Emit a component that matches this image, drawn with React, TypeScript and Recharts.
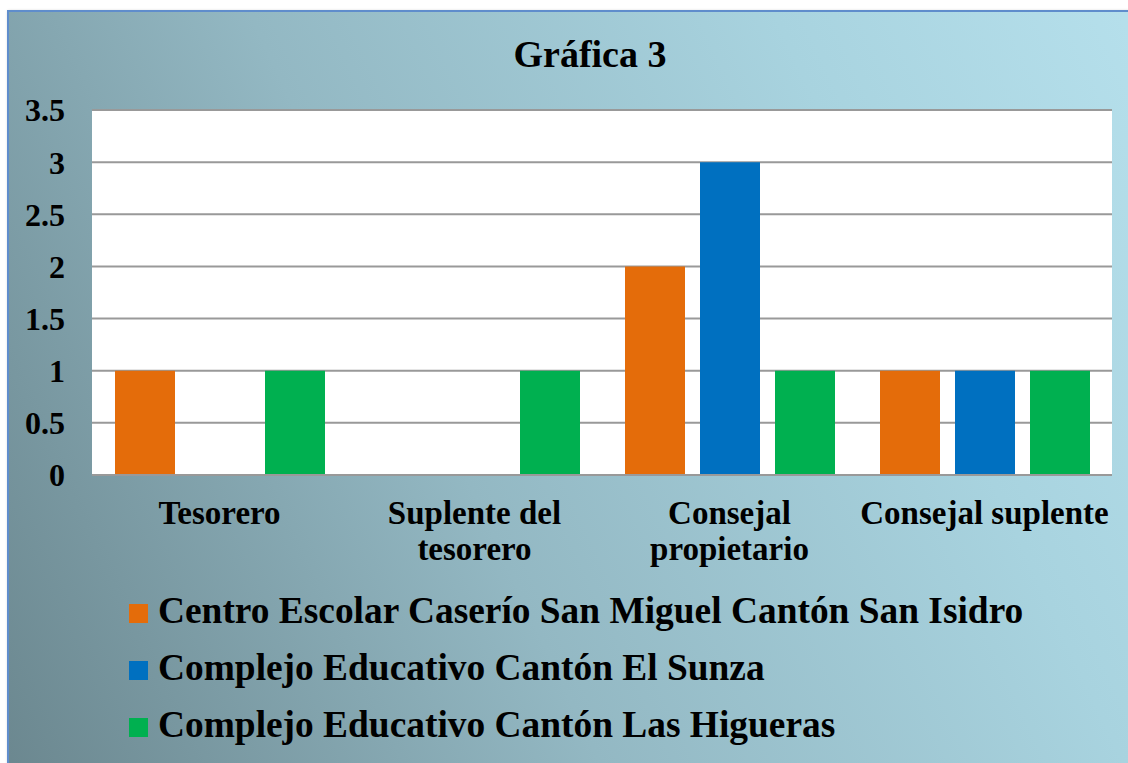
import { BarChart, Bar, XAxis, YAxis, CartesianGrid, Legend } from 'recharts';

const categories = ['Tesorero', 'Suplente del tesorero', 'Consejal propietario', 'Consejal suplente'];
const sanMiguel = [1, 0, 2, 1];
const elSunza = [0, 0, 3, 1];
const lasHigueras = [1, 1, 1, 1];
const yTicks = [0, 0.5, 1, 1.5, 2, 2.5, 3, 3.5];

const seriesNames = [
  'Centro Escolar Caserío San Miguel Cantón San Isidro',
  'Complejo Educativo Cantón El Sunza',
  'Complejo Educativo Cantón Las Higueras',
];

const data = categories.map((name, i) => ({
  name,
  a: sanMiguel[i],
  b: elSunza[i],
  c: lasHigueras[i],
}));

const FONT = '"Liberation Serif", "Times New Roman", serif';

// greedy wrap, roughly what fits in one category slot
function wrap(label: string, max = 18) {
  const lines: string[] = [];
  let cur = '';
  for (const w of label.split(' ')) {
    const next = cur ? cur + ' ' + w : w;
    if (next.length > max && cur) {
      lines.push(cur);
      cur = w;
    } else {
      cur = next;
    }
  }
  if (cur) lines.push(cur);
  return lines;
}

function CategoryTick(props: any) {
  const { x, y, payload } = props;
  const lines = wrap(String(payload.value));
  return (
    <text
      x={x}
      y={y}
      textAnchor="middle"
      fontSize={33}
      fontWeight="bold"
      fontFamily={FONT}
      fill="#000"
    >
      {lines.map((l, i) => (
        <tspan key={i} x={x} dy={i === 0 ? 23 : 36}>
          {l}
        </tspan>
      ))}
    </text>
  );
}

function LegendRows(props: any) {
  const { payload } = props;
  return (
    <div style={{ fontFamily: FONT, fontWeight: 'bold', fontSize: 37.4, color: '#000' }}>
      {(payload || []).map((p: any) => (
        <div key={p.value} style={{ height: 57, lineHeight: '57px', whiteSpace: 'nowrap' }}>
          <span
            style={{
              display: 'inline-block',
              width: 19,
              height: 19,
              background: p.color,
              marginRight: 10,
            }}
          />
          {p.value}
        </div>
      ))}
    </div>
  );
}

export default function App() {
  return (
    <div style={{ position: 'absolute', left: 0, top: 0, width: 1128, height: 763, overflow: 'hidden' }}>
      <div
        style={{
          position: 'absolute',
          left: 7,
          top: 10,
          width: 1140,
          height: 770,
          border: '2px solid #5f8dcc',
          background: 'linear-gradient(65deg, #6b878f 0%, #93b8c3 40%, #a8d3df 75%, #b6e0ec 100%)',
          boxShadow: '1px 1px 3px rgba(0,0,0,0.25)',
        }}
      />
      <div
        style={{
          position: 'absolute',
          left: 40,
          top: 36,
          width: 1100,
          textAlign: 'center',
          fontFamily: FONT,
          fontWeight: 'bold',
          fontSize: 38,
          lineHeight: '37px',
          color: '#000',
        }}
      >
        Gráfica 3
      </div>
      <div style={{ position: 'absolute', left: 0, top: 0 }}>
        <BarChart
          width={1128}
          height={763}
          data={data}
          margin={{ top: 110, right: 16, left: 0, bottom: 188 }}
          barSize={60}
          barGap={15}
        >
          <CartesianGrid vertical={false} stroke="#999999" strokeWidth={2} fill="#ffffff" />
          <XAxis
            dataKey="name"
            height={100}
            tickLine={false}
            tickSize={0}
            tickMargin={26}
            axisLine={{ stroke: '#999999', strokeWidth: 2 }}
            tick={<CategoryTick />}
            interval={0}
          />
          <YAxis
            width={92}
            domain={[0, 3.5]}
            ticks={yTicks}
            axisLine={false}
            tickLine={false}
            tickSize={0}
            tickMargin={27}
            tick={{ fill: '#000', fontSize: 32, fontWeight: 'bold', fontFamily: FONT }}
          />
          <Legend
            layout="vertical"
            align="center"
            verticalAlign="middle"
            wrapperStyle={{ top: 582, left: 129, width: 'auto' }}
            content={<LegendRows />}
          />
          <Bar dataKey="a" name={seriesNames[0]} fill="#E46C0A" isAnimationActive={false} />
          <Bar dataKey="b" name={seriesNames[1]} fill="#0070C0" isAnimationActive={false} />
          <Bar dataKey="c" name={seriesNames[2]} fill="#00B050" isAnimationActive={false} />
        </BarChart>
      </div>
    </div>
  );
}
